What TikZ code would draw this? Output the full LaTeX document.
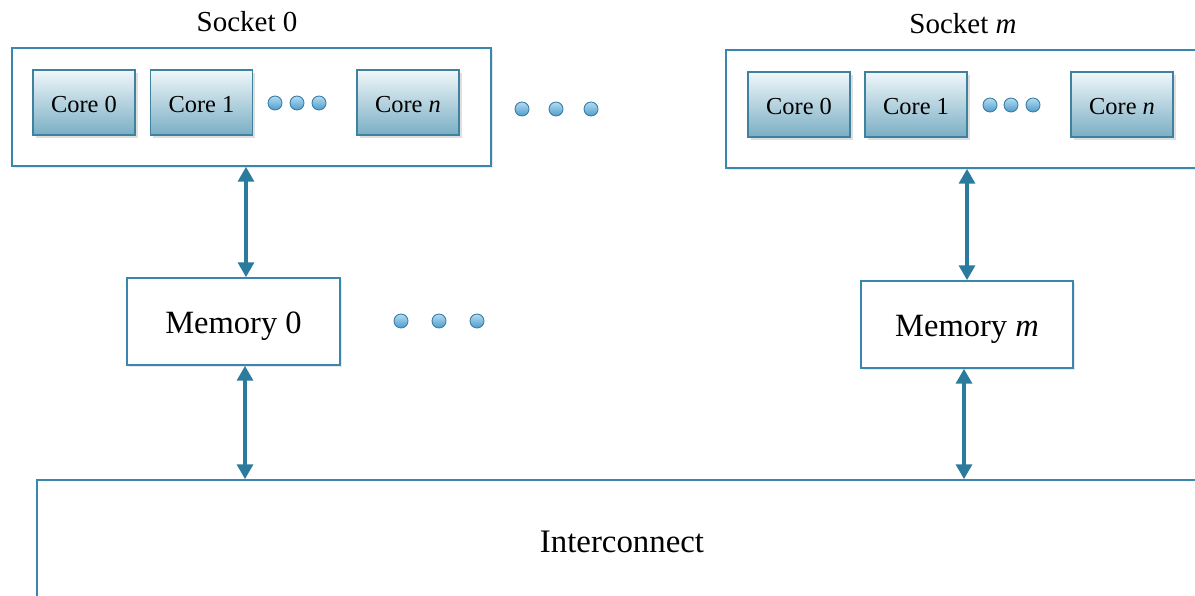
\documentclass[tikz,border=0pt]{standalone}
\usepackage{fontspec}
\setmainfont{Liberation Serif}
\usetikzlibrary{arrows.meta,shadows,calc}
\definecolor{boxline}{HTML}{3A87AD}
\definecolor{arrowblue}{HTML}{2B7B9E}
\definecolor{coretop}{HTML}{F0F7FA}
\definecolor{coremid}{HTML}{B6D5E2}
\definecolor{corebot}{HTML}{7AAEC4}
\definecolor{coreline}{HTML}{3F82A0}
\definecolor{dottop}{HTML}{B4DCF2}
\definecolor{dotbot}{HTML}{4F9CCB}
\definecolor{dotline}{HTML}{3A7CA6}
\tikzset{
  panel/.style={draw=boxline, line width=0.9pt, fill=white, rectangle,
    drop shadow={shadow xshift=1.2pt, shadow yshift=-1.2pt, opacity=0.18}},
  corebox/.style={draw=coreline, line width=0.7pt, rectangle,
    top color=coretop, middle color=coremid, bottom color=corebot,
    minimum width=2.04cm, minimum height=1.3cm, inner sep=0pt,
    text height=11.4pt, text depth=0pt,
    font=\fontsize{13.9}{16}\selectfont,
    drop shadow={shadow xshift=1.5pt, shadow yshift=-1.5pt, opacity=0.25}},
  membox/.style={panel, minimum width=4.25cm, minimum height=1.74cm,
    inner sep=0pt, text height=18pt, text depth=4pt,
    font=\fontsize{18.5}{22}\selectfont},
  sockbox/.style={panel, minimum width=9.58cm, minimum height=2.36cm, inner sep=0pt},
  socklabel/.style={font=\fontsize{16.5}{20}\selectfont, inner sep=0pt},
  dot/.style={circle, draw=dotline, line width=0.5pt, top color=dottop,
    bottom color=dotbot, minimum size=0.28cm, inner sep=0pt},
  link/.style={draw=arrowblue, line width=2.4pt,
    {Triangle[width=9pt,length=8.5pt]}-{Triangle[width=9pt,length=8.5pt]}},
}
\begin{document}
\begin{tikzpicture}[x=0.02cm, y=-0.02cm]
  \useasboundingbox (0,0) rectangle (1195,595);
  \clip (0,0) rectangle (1195,595);

  % interconnect along the bottom
  \node[panel, minimum width=23.36cm, minimum height=2.5cm, inner sep=0pt]
    (ic) at (621,542.5) {};
  \node[font=\fontsize{18.7}{22}\selectfont, inner sep=0pt] (iclabel) at (622,542) {Interconnect};

  % socket 0
  \node[sockbox] (s0) at (251.5,107) {};
  \node[socklabel] (s0label) at (247,22) {Socket 0};
  \node[corebox] (s0c0) at (84,102.5) {Core 0};
  \node[corebox] (s0c1) at (201.5,102.5) {Core 1};
  \node[corebox] (s0cn) at (408,102.5) {Core \textit{n}};
  \node[dot] (s0d1) at (275,103) {};
  \node[dot] (s0d2) at (297,103) {};
  \node[dot] (s0d3) at (319,103) {};

  % socket m
  \node[sockbox] (sm) at (965.5,109) {};
  \node[socklabel] (smlabel) at (963,24) {Socket \textit{m}};
  \node[corebox] (smc0) at (799,104.5) {Core 0};
  \node[corebox] (smc1) at (916,104.5) {Core 1};
  \node[corebox] (smcn) at (1122,104.5) {Core \textit{n}};
  \node[dot] (smd1) at (990,105) {};
  \node[dot] (smd2) at (1011,105) {};
  \node[dot] (smd3) at (1033,105) {};

  % sockets in between
  \node[dot] (sd1) at (522,109) {};
  \node[dot] (sd2) at (556,109) {};
  \node[dot] (sd3) at (591,109) {};

  % memories
  \node[membox] (m0) at (233.5,321.5) {Memory 0};
  \node[membox] (mm) at (967,324.5) {Memory \textit{m}};
  \node[dot] (md1) at (401,321) {};
  \node[dot] (md2) at (439,321) {};
  \node[dot] (md3) at (477,321) {};

  % vertical links
  \coordinate (xa) at (246,0);
  \coordinate (xb) at (245,0);
  \coordinate (xc) at (967,0);
  \coordinate (xd) at (964,0);
  \draw[link] (s0.south -| xa) -- (m0.north -| xa);
  \draw[link] (m0.south -| xb) -- (ic.north -| xb);
  \draw[link] (sm.south -| xc) -- (mm.north -| xc);
  \draw[link] (mm.south -| xd) -- (ic.north -| xd);
\end{tikzpicture}
\end{document}
